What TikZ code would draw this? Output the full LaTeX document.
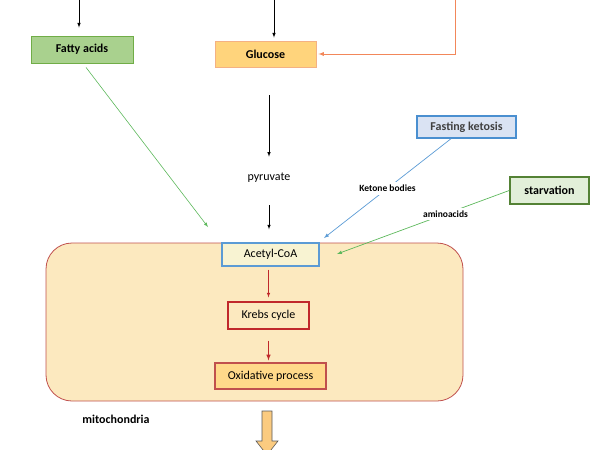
\documentclass[tikz,border=0pt]{standalone}
\usepackage{fontspec}
\setmainfont{Carlito}
\usetikzlibrary{arrows}
\definecolor{fafill}{HTML}{A9D18E}
\definecolor{faline}{HTML}{70AD47}
\definecolor{glfill}{HTML}{FFD47C}
\definecolor{glline}{HTML}{F4B183}
\definecolor{orline}{HTML}{F2875A}
\definecolor{ktfill}{HTML}{DAE3F3}
\definecolor{ktline}{HTML}{4A8FD0}
\definecolor{stfill}{HTML}{E2EFD9}
\definecolor{stline}{HTML}{548235}
\definecolor{mtfill}{HTML}{FCE9BF}
\definecolor{mtline}{HTML}{C0504D}
\definecolor{acfill}{HTML}{F8F3D2}
\definecolor{acline}{HTML}{5B9BD5}
\definecolor{krline}{HTML}{C0282B}
\definecolor{oxfill}{HTML}{FFD98A}
\definecolor{grline}{HTML}{5DB85C}
\definecolor{bkfill}{HTML}{FBCB80}

\begin{document}
\begin{tikzpicture}[x=1pt,y=-1pt,
    box/.style={draw, line width=0.9pt, inner sep=1pt},
    lbl/.style={fill=white, text=black, inner sep=3pt, font=\bfseries\fontsize{9.5}{11}\selectfont}]
    \useasboundingbox (0,0) rectangle (600,450);
    \node[draw=mtline, fill=mtfill, line width=0.8pt, rounded corners=26pt, minimum width=417pt, minimum height=158pt] (mito) at (254.5,322) {};
    \node[box, fill=fafill, draw=faline, minimum width=102pt, minimum height=27pt, font=\bfseries\fontsize{12}{14}\selectfont] (fatty) at (82,49.5) {Fatty acids};
    \node[box, fill=glfill, draw=glline, minimum width=101pt, minimum height=26pt, font=\bfseries\fontsize{12}{14}\selectfont] (glucose) at (265.5,54) {Glucose};
    \node[box, fill=ktfill, draw=ktline, line width=1.4pt, minimum width=99pt, minimum height=22pt, font=\bfseries\fontsize{12}{14}\selectfont, text=black!75] (fasting) at (466.5,127) {Fasting ketosis};
    \node[box, fill=stfill, draw=stline, line width=1.6pt, minimum width=79pt, minimum height=27pt, font=\bfseries\fontsize{12}{14}\selectfont] (starv) at (549.5,190.5) {starvation};
    \node[font=\fontsize{12}{14}\selectfont] (pyr) at (269,178) {pyruvate};
    \node[box, fill=acfill, draw=acline, line width=1.3pt, minimum width=97pt, minimum height=23pt, font=\fontsize{12}{14}\selectfont] (acetyl) at (270.5,254.5) {Acetyl-CoA};
    \node[box, fill=mtfill, draw=krline, line width=1.1pt, minimum width=81pt, minimum height=27pt, font=\fontsize{12}{14}\selectfont] (krebs) at (268.5,315.5) {Krebs cycle};
    \node[box, fill=oxfill, draw=mtline, line width=1.1pt, minimum width=111pt, minimum height=26pt, font=\fontsize{12}{14}\selectfont] (oxid) at (270.5,376) {Oxidative process};
    \node[font=\bfseries\fontsize{12}{14}\selectfont] (mitolbl) at (116,419) {mitochondria};
    \coordinate (fatin) at (79,0);
    \coordinate (gluin) at (274,0);
    \coordinate (orin) at (455,0);
    \coordinate (fatend) at (208,227);
    \coordinate (ketend) at (324,238);
    \coordinate (aminend) at (337,254);
    \draw[-latex, line width=0.6pt, shorten >=8pt] (fatin)--(fatin |- fatty.north);
    \draw[-latex, line width=0.6pt, shorten >=3pt] (gluin)--(gluin |- glucose.north);
    \draw[-latex, orline, line width=0.9pt, shorten >=2pt] (orin) |- (glucose.east);
    \draw[-latex, grline, line width=0.6pt, shorten <=5pt] (fatty.south -| 83,0)--(fatend);
    \draw[-latex, line width=0.6pt, shorten <=28pt, shorten >=13pt] (glucose.south -| pyr)--(pyr);
    \draw[-latex, line width=0.6pt, shorten <=19pt, shorten >=13pt] (pyr)--(pyr |- acetyl.north);
    \draw[-latex, acline, line width=0.7pt] (fasting.south -| 451,0)--(ketend) node[lbl, pos=0.5] (ketone) {Ketone bodies};
    \draw[-latex, grline, line width=0.7pt] (starv.west)--(aminend) node[lbl, pos=0.37] (amino) {aminoacids};
    \draw[-latex, krline, line width=0.6pt, shorten <=3pt, shorten >=4pt] (acetyl.south -| krebs)--(krebs);
    \draw[-latex, krline, line width=1pt, shorten <=11pt, shorten >=2pt] (krebs)--(krebs |- oxid.north);
    \draw[fill=bkfill, draw=black!65, line width=0.6pt] (262,411)--(272,411)--(272,441)--(278,441)--(267,455)--(256,441)--(262,441)--cycle;
\end{tikzpicture}
\end{document}
